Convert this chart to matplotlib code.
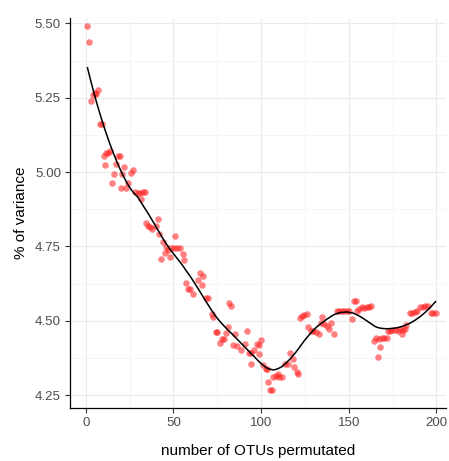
import numpy as np
import matplotlib
matplotlib.use("Agg")
import matplotlib.pyplot as plt

# values
otus_permutated = [
    1, 2, 3.2, 4, 5.1, 5.9, 7, 8, 9, 10.3, 11, 11.6, 12.7, 14, 15, 16.1, 17.1,
    18.4, 19.4, 20, 20.7, 22, 23.1, 24.3, 26, 27, 28.3, 29.6, 31, 31.7, 32.9,
    33.8, 34.5, 35.3, 36.7, 38, 39.9, 41, 42, 42.9, 44.2, 45.2, 45.6, 47.1,
    48.1, 48.6, 50.2, 50.9, 52, 53.6, 55.3, 56.2, 57, 58.2, 59.3, 61.3, 63.9,
    65.2, 66.1, 67, 68.6, 69.9, 71.8, 72.7, 74.3, 75, 76.6, 77.5, 78.8, 80,
    81.1, 81.9, 83, 84.2, 84.9, 86.4, 88.4, 90.6, 91.8, 92.9, 94.1, 94.4, 96,
    97.5, 98.6, 99, 99.9, 101.3, 102.8, 103.2, 104.1, 105.1, 106, 107, 108.3,
    109.8, 110.5, 111.7, 113.6, 115.2, 116.5, 118, 119, 120.3, 121.2, 122,
    123.1, 124.5, 126, 126.9, 128.4, 129.8, 131.1, 133, 134.2, 134.9, 136,
    137.4, 138.7, 139.9, 141.7, 143.1, 144.6, 145.9, 147.4, 148.8, 150.1,
    151.7, 153, 154, 154.5, 155.8, 157.4, 158.8, 160.2, 161.5, 162.7, 164.5,
    165.5, 166.8, 167.2, 167.8, 168.8, 170.2, 171.6, 172.2, 173.7, 174.8,
    176.3, 177.9, 179, 180.2, 180.9, 182, 182.6, 184.9, 186.2, 187.7, 188.9,
    190.6, 192.1, 193.4, 195, 196.9, 198.2, 199.5,
]
pct_variance = [
    5.490, 5.436, 5.240, 5.259, 5.267, 5.262, 5.276, 5.163, 5.163, 5.055,
    5.023, 5.063, 5.065, 5.070, 4.964, 4.994, 5.027, 5.055, 5.055, 4.945,
    4.993, 5.016, 4.945, 4.964, 4.996, 5.008, 4.934, 4.931, 4.929, 4.911,
    4.933, 4.932, 4.830, 4.819, 4.815, 4.808, 4.819, 4.841, 4.791, 4.709,
    4.766, 4.729, 4.749, 4.738, 4.714, 4.744, 4.744, 4.785, 4.744, 4.744,
    4.725, 4.705, 4.626, 4.608, 4.608, 4.590, 4.637, 4.662, 4.620, 4.651,
    4.576, 4.576, 4.523, 4.512, 4.464, 4.464, 4.427, 4.438, 4.438, 4.458,
    4.480, 4.559, 4.551, 4.419, 4.455, 4.416, 4.402, 4.421, 4.467, 4.391,
    4.354, 4.393, 4.402, 4.422, 4.419, 4.388, 4.436, 4.352, 4.337, 4.338,
    4.295, 4.268, 4.268, 4.311, 4.315, 4.322, 4.311, 4.311, 4.355, 4.355,
    4.393, 4.372, 4.346, 4.329, 4.322, 4.509, 4.517, 4.521, 4.522, 4.479,
    4.467, 4.467, 4.464, 4.456, 4.494, 4.514, 4.489, 4.481, 4.472, 4.492,
    4.455, 4.534, 4.534, 4.534, 4.534, 4.534, 4.534, 4.506, 4.568, 4.567,
    4.534, 4.539, 4.546, 4.542, 4.546, 4.546, 4.551, 4.433, 4.443, 4.380,
    4.438, 4.413, 4.441, 4.441, 4.441, 4.466, 4.466, 4.469, 4.469, 4.467,
    4.472, 4.456, 4.469, 4.472, 4.486, 4.527, 4.527, 4.531, 4.532, 4.548,
    4.546, 4.550, 4.550, 4.526, 4.526, 4.526,
]

x_ticks = [0, 50, 100, 150, 200]
y_ticks = [4.25, 4.50, 4.75, 5.00, 5.25, 5.50]


def loess(x, y, x_new, span=0.33):
    # local quadratic regression with tricube weights
    n = len(x)
    k = int(np.ceil(span * n))
    fitted = []
    for x0 in x_new:
        d = np.abs(x - x0)
        h = np.sort(d)[k - 1]
        w = np.clip(1 - (d / h) ** 3, 0, None) ** 3
        X = np.column_stack([np.ones(n), x - x0, (x - x0) ** 2])
        W = np.sqrt(w)
        beta = np.linalg.lstsq(X * W[:, None], y * W, rcond=None)[0]
        fitted.append(beta[0])
    return np.array(fitted)


x = np.array(otus_permutated)
y = np.array(pct_variance)
x_smooth = np.linspace(x.min(), x.max(), 200)
y_smooth = loess(x, y, x_smooth)

plt.rcParams["font.family"] = ["Liberation Sans", "DejaVu Sans"]

fig = plt.figure(figsize=(4.49, 4.61), dpi=100)
ax = fig.add_axes([0.156, 0.115, 0.837, 0.846])

ax.scatter(x, y, s=22, color="#ff1a1a", alpha=0.55, linewidths=0, zorder=2)
ax.plot(x_smooth, y_smooth, color="black", linewidth=1.1, zorder=3)

ax.set_xlim(-8.95, 205.4)
ax.set_ylim(4.207, 5.518)
ax.set_xticks(x_ticks)
ax.set_yticks(y_ticks)
ax.set_yticklabels([f"{v:.2f}" for v in y_ticks])
ax.set_xticks([25, 75, 125, 175], minor=True)
ax.set_yticks([4.375, 4.625, 4.875, 5.125, 5.375], minor=True)

ax.grid(which="major", color="#ebebeb", linewidth=0.8, zorder=0)
ax.grid(which="minor", color="#f4f4f4", linewidth=0.6, zorder=0)
ax.set_axisbelow(True)

for side in ["top", "right"]:
    ax.spines[side].set_visible(False)
for side in ["left", "bottom"]:
    ax.spines[side].set_linewidth(0.9)

ax.tick_params(which="major", length=3.5, width=0.8, color="#333333",
               labelsize=9.6, labelcolor="#4d4d4d", pad=3)
ax.tick_params(which="minor", length=0)

ax.set_xlabel("number of OTUs permutated", fontsize=11, labelpad=11)
ax.set_ylabel("% of variance", fontsize=11, labelpad=5)

fig.savefig("out.png", dpi=100)
plt.close(fig)
